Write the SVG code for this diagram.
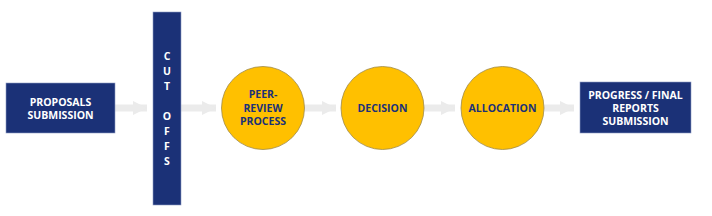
<svg xmlns="http://www.w3.org/2000/svg" width="712" height="216" viewBox="0 0 712 216">
<defs>
<style>
.box{fill:#1b3177;stroke:#8e9bc4;stroke-width:0.6}
.circ{fill:#ffc000;stroke:#a08a4a;stroke-width:0.8}
.wt{fill:#ffffff;font-family:"Open Sans","Liberation Sans",sans-serif;font-weight:bold;font-size:10.5px;text-anchor:middle}
.nt{fill:#1b3177;font-family:"Open Sans","Liberation Sans",sans-serif;font-weight:bold;font-size:10.5px;text-anchor:middle}
.arr{stroke:#ebebeb;stroke-width:7;fill:none}
</style>
<marker id="ah" viewBox="0 0 10 10" refX="10" refY="5" markerWidth="2" markerHeight="2" markerUnits="strokeWidth" orient="auto">
<path d="M0,0 L10,5 L0,10 Z" fill="#ebebeb"/>
</marker>
</defs>
<rect width="712" height="216" fill="#ffffff"/>
<g id="connectors">
<line class="arr" x1="115" y1="108" x2="147" y2="108" marker-end="url(#ah)"/>
<line class="arr" x1="181" y1="108" x2="216" y2="108" marker-end="url(#ah)"/>
<line class="arr" x1="304" y1="108" x2="336" y2="108" marker-end="url(#ah)"/>
<line class="arr" x1="423" y1="108" x2="455" y2="108" marker-end="url(#ah)"/>
<line class="arr" x1="544" y1="108" x2="574" y2="108" marker-end="url(#ah)"/>
</g>
<g id="proposals">
<rect class="box" x="6" y="83" width="109" height="50"/>
<text class="wt" x="60.5" y="106">PROPOSALS</text>
<text class="wt" x="60.5" y="118.5">SUBMISSION</text>
</g>
<g id="cutoffs">
<rect class="box" x="153" y="12" width="28" height="193"/>
<text class="wt" x="167" y="60">C</text>
<text class="wt" x="167" y="75">U</text>
<text class="wt" x="167" y="90">T</text>
<text class="wt" x="167" y="120">O</text>
<text class="wt" x="167" y="135">F</text>
<text class="wt" x="167" y="150">F</text>
<text class="wt" x="167" y="165">S</text>
</g>
<g id="peer-review">
<circle class="circ" cx="263" cy="108" r="41.5"/>
<text class="nt" x="263" y="98">PEER-</text>
<text class="nt" x="263" y="111.5">REVIEW</text>
<text class="nt" x="263" y="125">PROCESS</text>
</g>
<g id="decision">
<circle class="circ" cx="382.5" cy="108" r="41.5"/>
<text class="nt" x="382.5" y="112">DECISION</text>
</g>
<g id="allocation">
<circle class="circ" cx="502.5" cy="108" r="41.5"/>
<text class="nt" x="502.5" y="112">ALLOCATION</text>
</g>
<g id="reports">
<rect class="box" x="580" y="82" width="111" height="51"/>
<text class="wt" x="635.5" y="99">PROGRESS / FINAL</text>
<text class="wt" x="635.5" y="112">REPORTS</text>
<text class="wt" x="635.5" y="125">SUBMISSION</text>
</g>
</svg>
